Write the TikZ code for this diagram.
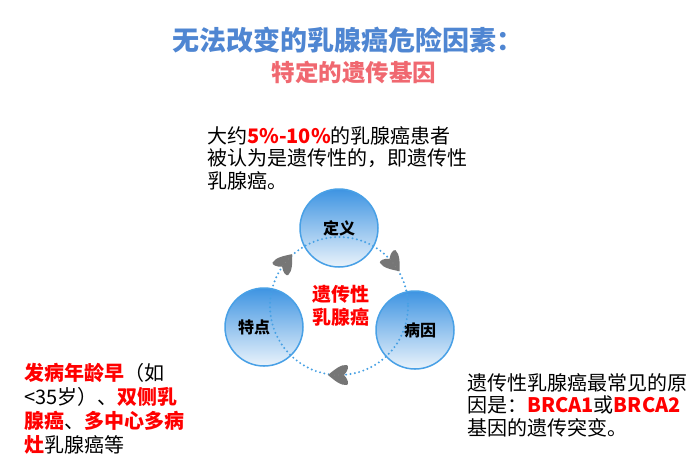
\documentclass[tikz,border=0pt]{standalone}
\usepackage{fontspec}
\setmainfont{Noto Sans CJK SC}
\usetikzlibrary{decorations.markings}
\definecolor{titleblue}{RGB}{79, 134, 210}
\definecolor{subred}{RGB}{240, 104, 112}
\definecolor{keyred}{RGB}{255, 0, 0}
\definecolor{circtop}{RGB}{62, 148, 226}
\definecolor{circbot}{RGB}{234, 243, 251}
\definecolor{circedge}{RGB}{72, 160, 230}
\definecolor{dotblue}{RGB}{70, 160, 228}
\definecolor{arrowgray}{RGB}{118, 118, 118}
\newcommand{\keyword}[1]{\textcolor{keyred}{\bfseries #1}}
% leaf-shaped arrowhead, drawn in the local frame of a marking
\newcommand{\leafhead}{\fill[arrowgray] (11,0) .. controls (5,5) and (-2,11) .. (-8,10) .. controls (-10,9) and (-9,4) .. (-5,0) .. controls (-9,-4) and (-10,-9) .. (-8,-10) .. controls (-2,-11) and (5,-5) .. (11,0);
    \draw[arrowgray!70!white, line width=0.6pt] (-4,0) -- (8,0);}

\begin{document}
\begin{tikzpicture}[x=1pt, y=-1pt,
    topic/.style={circle, draw=circedge, line width=1.5pt, top color=circtop, bottom color=circbot, minimum size=78pt, inner sep=0pt, font=\fontsize{16}{18}\selectfont\bfseries},
    textblock/.style={align=left, inner sep=0pt, anchor=north west, font=\fontsize{20}{22.5}\selectfont},
    cycle/.style={dotblue, line width=2.2pt, dash pattern=on 0pt off 4.4pt, line cap=round}
]
\path[use as bounding box, fill=white] (0,0) rectangle (700,467);

% Title
\node[font=\fontsize{27}{30}\selectfont\bfseries, text=titleblue, anchor=west, inner sep=0pt] (title) at (172,40) {无法改变的乳腺癌危险因素：};
\node[font=\fontsize{23.5}{26}\selectfont\bfseries, text=subred, inner sep=0pt] (subtitle) at (354,72) {特定的遗传基因};

% Three topics on the cycle
\node[topic] (dingyi) at (339,228) {定义};
\node[topic] (tedian) at (264,327) {\hspace*{-20pt}特点};
\node[topic] (bingyin) at (415,330) {\hspace*{10pt}病因};

\coordinate (hub) at (339,306);
\draw[cycle, postaction={decorate}, decoration={markings,
    mark=at position 0.25 with {\leafhead},
    mark=at position 0.608 with {\leafhead},
    mark=at position 0.892 with {\leafhead}}]
    (hub) circle[radius=69];

\node[align=center, inner sep=0pt, text=keyred, font=\fontsize{19}{23}\selectfont\bfseries] (core) at (341,305.5) {遗传性\\乳腺癌};

% Explanations
\node[textblock] (defnote) at (207,126) {大约\keyword{5\%-10\%}的乳腺癌患者\\被认为是遗传性的，即遗传性\\乳腺癌。};
\node[textblock, font=\fontsize{20}{24}\selectfont] (featnote) at (24,363) {\keyword{发病年龄早}（如\\<35岁）、\keyword{双侧乳}\\\keyword{腺癌}、\keyword{多中心多病}\\\keyword{灶}乳腺癌等};
\node[textblock] (causenote) at (467,373) {遗传性乳腺癌最常见的原\\因是：\keyword{BRCA1}或\keyword{BRCA2}\\基因的遗传突变。};

\end{tikzpicture}
\end{document}
